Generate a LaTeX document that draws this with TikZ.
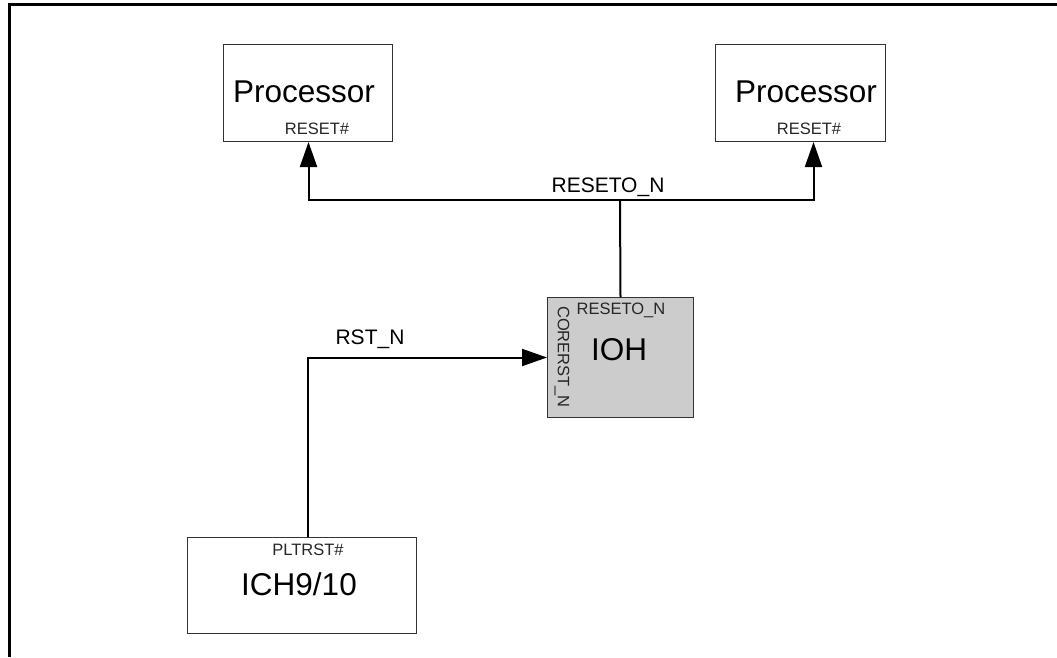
\documentclass[tikz,border=0pt]{standalone}
\usepackage{fontspec}
\setmainfont{Liberation Sans}
\usetikzlibrary{arrows.meta,calc}
\begin{document}
\begin{tikzpicture}[x=1pt,y=-1pt,
  blockbox/.style={draw=black!80, line width=1pt, fill=white, inner sep=0pt, anchor=north west},
  bigtxt/.style={font=\fontsize{31.5}{31.5}\selectfont, inner sep=0pt},
  pintxt/.style={font=\fontsize{16.5}{16.5}\selectfont, text=black!85, inner sep=0pt},
  sigtxt/.style={font=\fontsize{21}{21}\selectfont, inner sep=0pt},
  wire/.style={line width=2pt, black},
  tri/.style={-{Triangle[length=25pt,width=17pt]}}]
\useasboundingbox (0,0) rectangle (1057,657);
% frame
\draw[line width=3pt] (9,657) -- (9,4) -- (1057,4);
% boxes
\node[blockbox, minimum width=169pt, minimum height=97pt] (p1) at (223,44) {};
\node[blockbox, minimum width=170pt, minimum height=97pt] (p2) at (715,44) {};
\node[blockbox, fill=black!20, minimum width=146pt, minimum height=120pt] (ioh) at (547,297) {};
\node[blockbox, minimum width=229pt, minimum height=96pt] (ich) at (187,537) {};
% box texts
\node[bigtxt] (p1t) at (304,92) {Processor};
\node[pintxt] (p1r) at (317,129) {RESET\#};
\node[bigtxt] (p2t) at (806,92) {Processor};
\node[pintxt] (p2r) at (809,129) {RESET\#};
\node[pintxt] (iohr) at (621,310) {RESETO\_N};
\node[bigtxt] (ioht) at (619,350) {IOH};
\node[pintxt, rotate=-90] (iohc) at (562,357) {CORERST\_N};
\node[pintxt] (ichp) at (308,550) {PLTRST\#};
\node[bigtxt] (icht) at (299,584) {ICH9/10};
% signal labels
\node[sigtxt] (lreset) at (608,187) {RESETO\_N};
\node[sigtxt] (lrst) at (370,339) {RST\_N};
% connectors
\coordinate (bus) at (620,200);
\coordinate (p2in) at ($(p2.south)+(13,0)$);
\coordinate (p1in) at ($(p1.south)+(0.5,0)$);
\coordinate (ichout) at ($(ich.north)+(5.5,0)$);
\draw[wire] (ioh.north) -- (bus);
\draw[wire, tri] (bus) -| (p1in);
\draw[wire, tri] (bus) -| (p2in);
\draw[wire, tri] (ichout) |- (ioh.west);
\end{tikzpicture}
\end{document}
